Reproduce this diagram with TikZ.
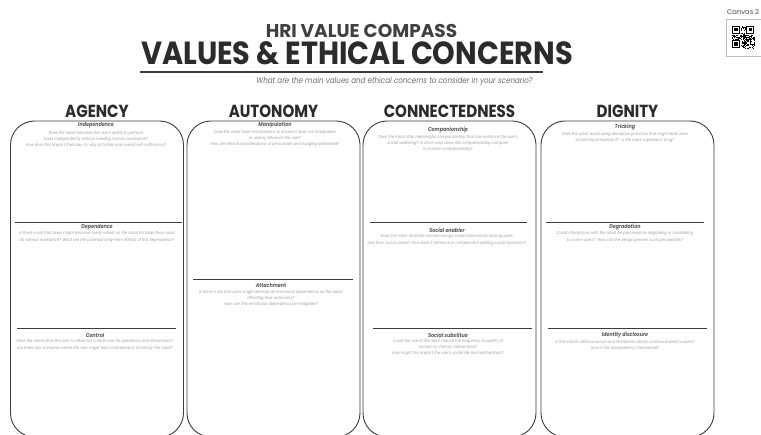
\documentclass[tikz,border=0pt]{standalone}
\usepackage{fontspec}
\newfontfamily\pop{Poppins}[FakeStretch=0.86]
\newfontfamily\popT{Poppins}[FakeStretch=0.9]
\newfontfamily\popW{Poppins}
\usetikzlibrary{calc}
\definecolor{ink}{HTML}{2B2B2B}
\definecolor{lineink}{HTML}{3C3C3C}
\definecolor{subgray}{HTML}{6E6E6E}
\definecolor{secgray}{HTML}{5C5C5C}
\definecolor{descgray}{HTML}{A0A0A0}
\begin{document}
\begin{tikzpicture}[x=1pt,y=-1pt,
  card/.style={draw=lineink, line width=0.9pt, rounded corners=24pt, minimum width=173pt, minimum height=316pt, inner sep=0pt},
  colhead/.style={font=\pop\bfseries\fontsize{17.5}{18}\selectfont, text=ink, anchor=base, inner sep=0pt},
  sectitle/.style={font=\pop\bfseries\itshape\fontsize{5.6}{6}\selectfont, text=secgray, inner sep=0pt},
  desc/.style={font=\pop\itshape\fontsize{4.2}{6.2}\selectfont, text=descgray, align=center, anchor=north, inner sep=0pt},
  divider/.style={draw=lineink, line width=0.9pt},
]
\useasboundingbox (0,0) rectangle (761,435);
\clip (0,0) rectangle (761,435);
\fill[white] (0,0) rectangle (761,435);

% titles
\node[font=\popW\bfseries\fontsize{18.5}{18.5}\selectfont, text=ink!90, anchor=base, inner sep=0pt] (hri) at (361.5,38) {HRI VALUE COMPASS};
\node[font=\popT\bfseries\fontsize{32}{32}\selectfont, text=ink, anchor=base, inner sep=0pt] (title) at (357,65) {VALUES \& ETHICAL CONCERNS};
\coordinate (ulA) at (140,72);
\coordinate (ulB) at (543,72);
\draw[lineink, line width=1.4pt] (ulA) -- (ulB);
\node[font=\pop\itshape\fontsize{8.3}{9}\selectfont, text=subgray, anchor=base, inner sep=0pt] (sub) at (394.5,83.5) {What are the main values and ethical concerns to consider in your scenario?};

% canvas label and QR
\node[font=\popW\fontsize{6.8}{7}\selectfont, text=ink!85, anchor=base west, inner sep=0pt] (canvas) at (727,15) {Canvas 2};
\draw[black!25, line width=0.5pt] (763,19.5) -- (726.5,19.5) -- (726.5,56) -- (763,56);
\begin{scope}[shift={(732,26)}]
  \pgfmathsetseed{12}
  \foreach \i in {0,...,20}{
    \foreach \j in {0,...,20}{
      \pgfmathtruncatemacro{\qb}{rnd<0.5}
      \ifnum\qb=1 \fill[black] (\i*1.1,\j*1.1) rectangle ++(1.1,1.1);\fi
    }
  }
  \foreach \px/\py in {0/0,14.3/0,0/14.3}{
    \begin{scope}[shift={(\px,\py)}]
      \fill[white] (-0.2,-0.2) rectangle (8.8,8.8);
      \fill[black] (0,0) rectangle (7.7,7.7);
      \fill[white] (1.1,1.1) rectangle (6.6,6.6);
      \fill[black] (2.2,2.2) rectangle (5.5,5.5);
    \end{scope}
  }
\end{scope}

% column headers
\node[colhead] (hA) at (97,118) {AGENCY};
\node[colhead] (hB) at (273.5,118) {AUTONOMY};
\node[colhead] (hC) at (449.5,118) {CONNECTEDNESS};
\node[colhead] (hD) at (627.5,118) {DIGNITY};

% cards
\node[card] (c1) at (97,279) {};
\node[card] (c2) at (273.5,279) {};
\node[card] (c3) at (449.5,279) {};
\node[card] (c4) at (627.5,279) {};

% dividers
\draw[divider] (15,222) -- (182,222);
\draw[divider] (17,328) -- (176,328);
\draw[divider] (193,279) -- (353,279);
\draw[divider] (370,222) -- (527,222);
\draw[divider] (373,328) -- (532,328);
\draw[divider] (546,222) -- (704,222);
\draw[divider] (548,328) -- (707,328);

% card 1
\node[sectitle] (s11) at (96,125.5) {Independence};
\node[desc] (d11) at (96,130.5) {Does the robot enhance the user's ability to perform\\tasks independently without needing human assistance?\\How does this impact their day-to-day activities and overall self-sufficiency?};
\node[sectitle] (s12) at (97,227) {Dependence};
\node[desc] (d12) at (97,231.5) {Is there a risk that users might become overly reliant on the robot for tasks they could\\do without assistance? What are the potential long-term effects of this dependence?};
\node[sectitle] (s13) at (95,335) {Control};
\node[desc] (d13) at (95,339.5) {Does the robot allow the user to retain full control over its operations and interactions?\\Are there any scenarios where the user might feel constrained or forced by the robot?};

% card 2
\node[sectitle] (s21) at (275,125) {Manipulation};
\node[desc] (d21) at (275,130) {Does the robot have mechanisms to ensure it does not manipulate\\or unduly influence the user?\\How are ethical considerations of persuasion and nudging addressed?};
\node[sectitle] (s22) at (271,285) {Attachment};
\node[desc] (d22) at (271,290) {Is there a risk that users might develop an emotional dependency on the robot,\\affecting their autonomy?\\How can this emotional dependency be mitigated?};

% card 3
\node[sectitle] (s31) at (448,130) {Companionship};
\node[desc] (d31) at (448,135) {Does the robot offer meaningful companionship that can enhance the user's\\social wellbeing? In what ways does this companionship compare\\to human companionship?};
\node[sectitle] (s32) at (447,230) {Social enabler};
\node[desc] (d32) at (447,234.5) {Does the robot facilitate and encourage social interactions among users\\and their social circles? How does it enhance or complement existing social dynamics?};
\node[sectitle] (s33) at (448,335) {Social substitue};
\node[desc] (d33) at (448,339) {Could the use of the robot reduce the frequency or quality of\\human-to-human interactions?\\How might this impact the user's social life and relationships?};

% card 4
\node[sectitle] (s41) at (625,127.5) {Tricking};
\node[desc] (d41) at (625,132) {Does the robot avoid using deceptive practices that might lead users\\to anthropomorphize it?\ \ Is the robot capable of lying?};
\node[sectitle] (s42) at (625,227) {Degradation};
\node[desc] (d42) at (625,231.5) {Could interactions with the robot be perceived as degrading or humiliating\\by some users?\ \ How can the design prevent such perceptions?};
\node[sectitle] (s43) at (625,335) {Identity disclosure};
\node[desc] (d43) at (625,339.5) {Is the robot's artificial nature and limitations clearly communicated to users?\\How is this transparency maintained?};
\end{tikzpicture}
\end{document}
